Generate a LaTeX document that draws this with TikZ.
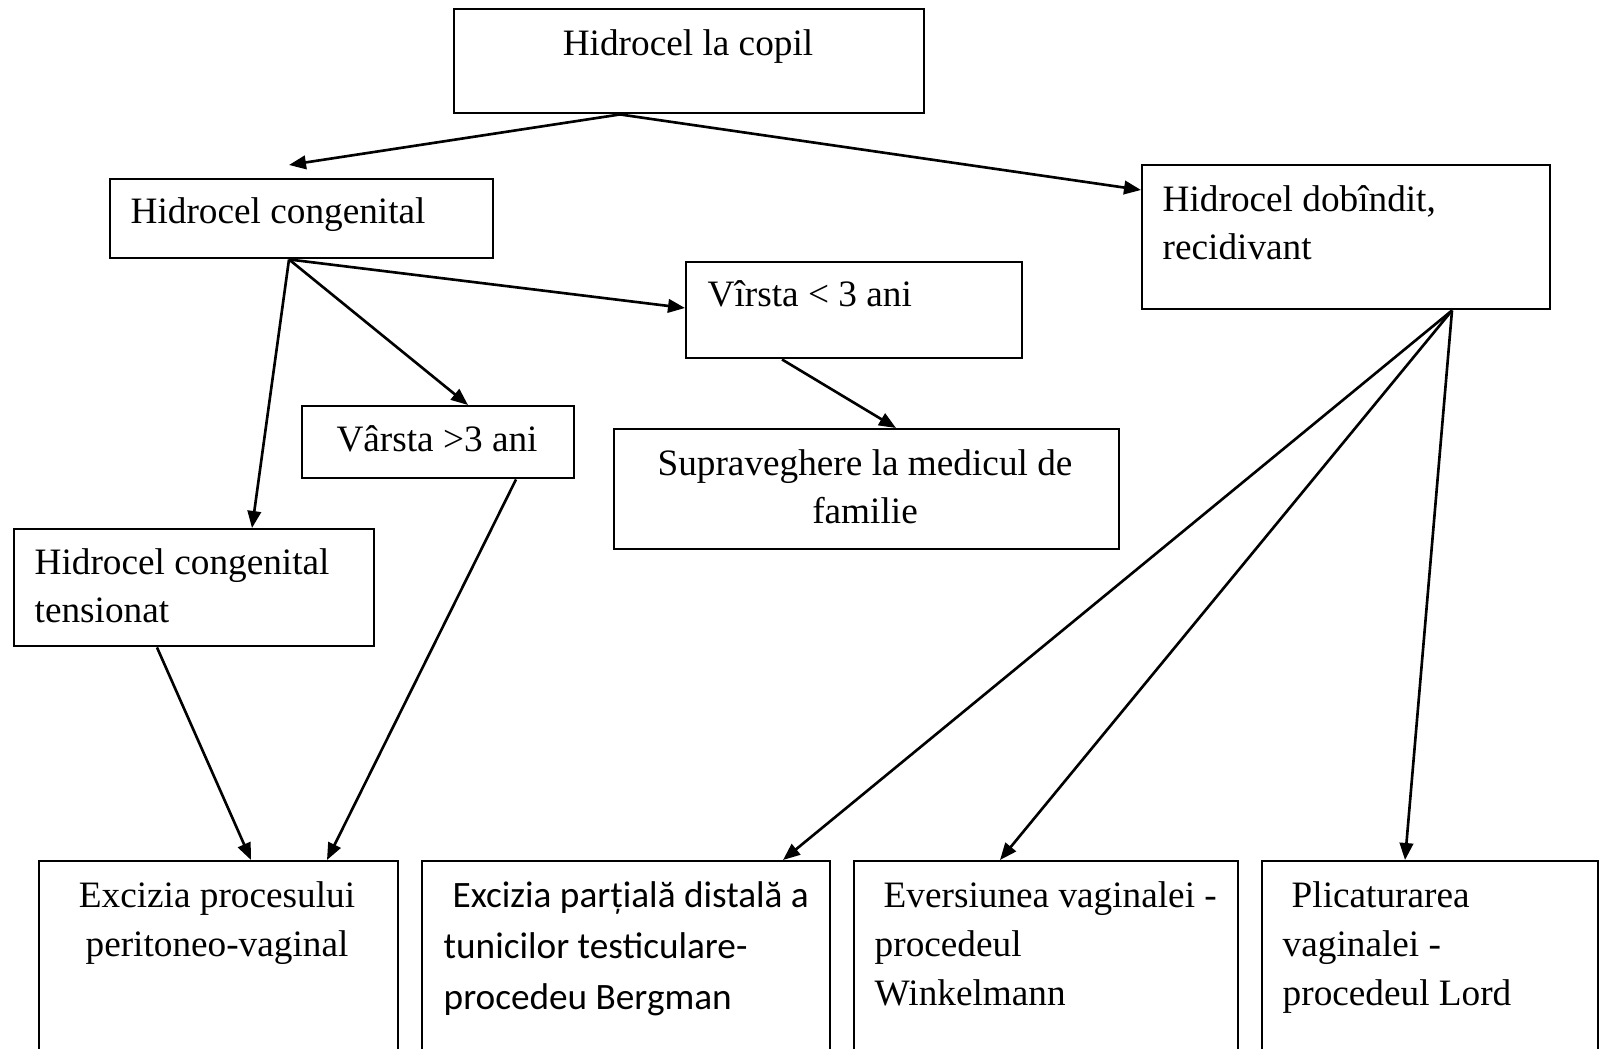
\documentclass[tikz,border=0pt]{standalone}
\usepackage{fontspec}
\setmainfont{Liberation Serif}
\newfontfamily\carlito{Carlito}
\usepackage{tikz}
\usetikzlibrary{arrows.meta,positioning,calc}

\tikzset{
  box/.style={draw,line width=0.7pt,inner sep=0pt,anchor=north west},
  txt/.style={inner sep=0pt,font=\fontsize{10.6}{13.9}\selectfont},
  txtl/.style={txt,anchor=base west,align=left},
  txtc/.style={txt,anchor=base,align=center},
  conn/.style={line width=0.75pt,-{Triangle[length=1.7mm,width=1.35mm]}}
}

\begin{document}
\begin{tikzpicture}
  \useasboundingbox (0,0) rectangle (16,-10.49);
  \clip (0,0) rectangle (16,-10.49);
  \node[box,minimum width=4.70cm,minimum height=1.04cm] (top) at (4.53,-0.08) {};
  \node[box,minimum width=3.83cm,minimum height=0.79cm] (cong) at (1.09,-1.78) {};
  \node[box,minimum width=4.08cm,minimum height=1.44cm] (dob) at (11.41,-1.64) {};
  \node[box,minimum width=3.36cm,minimum height=0.96cm] (vmic) at (6.85,-2.61) {};
  \node[box,minimum width=2.72cm,minimum height=0.72cm] (vmare) at (3.01,-4.05) {};
  \node[box,minimum width=5.05cm,minimum height=1.20cm] (sup) at (6.13,-4.28) {};
  \node[box,minimum width=3.60cm,minimum height=1.17cm] (tens) at (0.13,-5.28) {};
  \node[box,minimum width=3.59cm,minimum height=2.2cm] (exc) at (0.38,-8.60) {};
  \node[box,minimum width=4.08cm,minimum height=2.2cm] (berg) at (4.21,-8.60) {};
  \node[box,minimum width=3.84cm,minimum height=2.2cm] (ever) at (8.53,-8.60) {};
  \node[box,minimum width=3.36cm,minimum height=2.2cm] (plic) at (12.61,-8.60) {};

  \node[txtc] (top-t) at (6.88,-0.56) {Hidrocel la copil};
  \node[txtl] (cong-t) at (1.30,-2.24) {Hidrocel congenital};
  \node[txtl] (dob-t) at (11.62,-2.60) {Hidrocel dobîndit,\\recidivant};
  \node[txtl] (vmic-t) at (7.07,-3.07) {Vîrsta < 3 ani};
  \node[txtc] (vmare-t) at (4.37,-4.52) {Vârsta >3 ani};
  \node[txtc] (sup-t) at (8.65,-5.24) {Supraveghere la medicul de\\familie};
  \node[txtl] (tens-t) at (0.34,-6.23) {Hidrocel congenital\\tensionat};
  \node[txtc] (exc-t) at (2.17,-9.56) {Excizia procesului\\peritoneo-vaginal};
  \node[txtl,font=\carlito\fontsize{10.6}{14.5}\selectfont] (berg-t) at (4.43,-10.09)
    {\hspace*{0.09cm}Excizia parțială distală a\\tunicilor testiculare-\\procedeu Bergman};
  \node[txtl] (ever-t) at (8.74,-10.05) {\hspace*{0.09cm}Eversiunea vaginalei -\\procedeul\\Winkelmann};
  \node[txtl] (plic-t) at (12.82,-10.05) {\hspace*{0.09cm}Plicaturarea\\vaginalei -\\procedeul Lord};

  \draw[conn] ($(top.south west)+(1.67,0)$) -- ($(cong.north west)+(1.80,0.13)$);
  \draw[conn] ($(top.south west)+(1.67,0)$) -- ($(dob.north west)+(0,-0.26)$);
  \draw[conn] ($(cong.south west)+(1.80,0)$) -- ($(vmic.north west)+(0,-0.47)$);
  \draw[conn] ($(cong.south west)+(1.80,0)$) -- ($(vmare.north west)+(1.67,0)$);
  \draw[conn] ($(cong.south west)+(1.80,0)$) -- ($(tens.north west)+(2.39,0)$);
  \draw[conn] ($(vmic.south west)+(0.97,0)$) -- ($(sup.north west)+(2.83,0)$);
  \draw[conn] ($(vmare.south west)+(2.15,0)$) -- ($(exc.north west)+(2.89,0)$);
  \draw[conn] ($(tens.south west)+(1.44,0)$) -- ($(exc.north west)+(2.13,0)$);
  \draw[conn] ($(dob.south west)+(3.11,0)$) -- ($(berg.north west)+(3.62,0)$);
  \draw[conn] ($(dob.south west)+(3.11,0)$) -- ($(ever.north west)+(1.47,0)$);
  \draw[conn] ($(dob.south west)+(3.11,0)$) -- ($(plic.north west)+(1.44,0)$);
\end{tikzpicture}
\end{document}
